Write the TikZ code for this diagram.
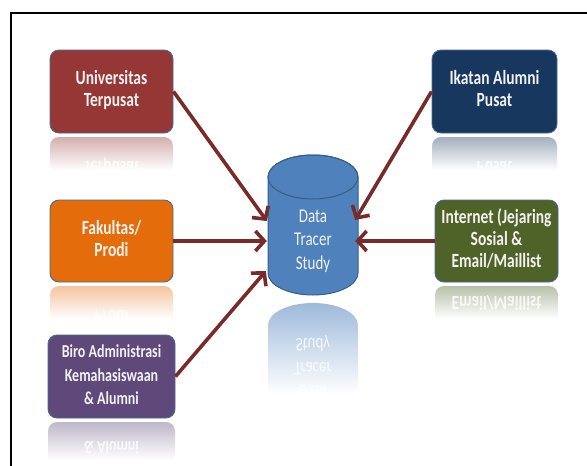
\documentclass[tikz,border=0pt]{standalone}
\usepackage{fontspec}
\setmainfont{Carlito}
\usetikzlibrary{arrows.meta,calc}
\definecolor{cUni}{HTML}{953735}
\definecolor{cFak}{HTML}{E46C0A}
\definecolor{cBiro}{HTML}{5F497A}
\definecolor{cIka}{HTML}{17375E}
\definecolor{cInt}{HTML}{4F6228}
\definecolor{cCyl}{HTML}{4F81BD}
\definecolor{cCylE}{HTML}{385D8A}
\definecolor{cArr}{HTML}{772C2A}
\definecolor{cTxt}{HTML}{F2F2F2}
\definecolor{cEdge}{HTML}{4A6A94}
\newcommand\vtxt[1]{\scalebox{1}[1.3]{\begin{tabular}{@{}c@{}}#1\end{tabular}}}
\newcommand\mtxt[1]{\scalebox{1}[-1.3]{\begin{tabular}{@{}c@{}}#1\end{tabular}}}
\tikzset{
 srcbox/.style={rounded corners=9pt, draw=cEdge, line width=0.9pt, fill=#1, text=cTxt,
   font=\fontsize{15.5}{17}\selectfont\bfseries, align=center,
   minimum width=123pt, minimum height=83pt, inner sep=0pt},
 mirror/.style={text=white, font=\fontsize{15.5}{17}\selectfont\bfseries, inner sep=0pt, opacity=0.8},
 flow/.style={draw=cArr, line width=3.6pt, -{Straight Barb[length=9pt,width=20pt]}},
}
\begin{document}
\begin{tikzpicture}[x=1pt,y=-1pt]
\useasboundingbox (0,0) rectangle (587,466);
\fill[white] (0,0) rectangle (587,466);
\draw[line width=1.2pt] (11,13) -- (587,13);
\draw[line width=1.8pt] (11,466) -- (11,12.4);
% reflections of boxes
\begin{scope}
 \clip[rounded corners=9pt] (50,137) rectangle (173,200);
 \shade[top color=cUni!40!white, bottom color=white] (50,137) rectangle (173,170);
 \node[mirror] (uniR) at (111.5,166) {\mtxt{Terpusat}};
\end{scope}
\begin{scope}
 \clip[rounded corners=9pt] (50,286) rectangle (173,350);
 \shade[top color=cFak!40!white, bottom color=white] (50,286) rectangle (173,319);
 \node[mirror] (fakR) at (111.5,315) {\mtxt{Prodi}};
\end{scope}
\begin{scope}
 \clip[rounded corners=9pt] (48,422) rectangle (175,466);
 \shade[top color=cBiro!40!white, bottom color=white] (48,422) rectangle (175,460);
 \node[mirror, font=\fontsize{14}{18}\selectfont\bfseries] (biroR) at (111.5,446) {\mtxt{\& Alumni}};
\end{scope}
\begin{scope}
 \clip[rounded corners=9pt] (432,137) rectangle (557,200);
 \shade[top color=cIka!40!white, bottom color=white] (432,137) rectangle (557,170);
 \node[mirror] (ikaR) at (494.5,166) {\mtxt{Pusat}};
\end{scope}
\begin{scope}
 \clip[rounded corners=9pt] (435,286) rectangle (558,350);
 \shade[top color=cInt!40!white, bottom color=white] (435,286) rectangle (558,319);
 \node[mirror] (intR) at (496.5,301) {\mtxt{Email/Maillist}};
\end{scope}
% reflection of cylinder
\begin{scope}
 \clip (268,325) arc[start angle=180,end angle=0,x radius=45pt,y radius=22pt] -- (358,400) -- (268,400) -- cycle;
 \shade[top color=cCyl!55!white, bottom color=white] (268,303) rectangle (358,394);
 \node[mirror, font=\fontsize{15}{18}\selectfont] (dbR) at (313,367) {\mtxt{Data\\Tracer\\Study}};
\end{scope}
% boxes
\node[srcbox=cUni] (uni) at (111.5,91.5) {\vtxt{Universitas\\Terpusat}};
\node[srcbox=cFak, minimum height=82pt] (fak) at (111.5,241) {\vtxt{Fakultas/\\Prodi}};
\node[srcbox=cBiro, minimum width=127pt, font=\fontsize{14}{18}\selectfont\bfseries] (biro) at (111.5,376.5) {\vtxt{Biro Administrasi\\Kemahasiswaan\\\& Alumni}};
\node[srcbox=cIka, minimum width=125pt] (ika) at (494.5,91.5) {\vtxt{Ikatan Alumni\\Pusat}};
\node[srcbox=cInt, minimum height=82pt] (int) at (496.5,241) {\vtxt{Internet (Jejaring\\Sosial \&\\Email/Maillist}};
% cylinder
\filldraw[fill=cCyl, draw=cCylE, line width=1pt] (268,177) -- (268,273)
  arc[start angle=180, end angle=360, x radius=45pt, y radius=22pt] -- (358,177)
  arc[start angle=0, end angle=180, x radius=45pt, y radius=22pt] -- cycle;
\draw[cCylE, line width=1pt] (313,177) ellipse [x radius=45pt, y radius=22pt];
\node[inner sep=0pt, minimum width=90pt, minimum height=140pt] (db) at (313,225) {};
\node[font=\fontsize{15}{18}\selectfont, text=cTxt, align=center, inner sep=0pt] (dblabel) at (313,241) {\vtxt{Data\\Tracer\\Study}};
% connectors
\draw[flow] (uni.east) -- ($(db.west)+(-1,-4)$);
\draw[flow] (fak.east) -- ($(db.west)+(-1,16)$);
\draw[flow] (biro.east) -- ($(db.west)+(-2,46)$);
\draw[flow] (ika.west) -- ($(db.east)+(-3,-5)$);
\draw[flow] (int.west) -- ($(db.east)+(-3,16)$);
\end{tikzpicture}
\end{document}
